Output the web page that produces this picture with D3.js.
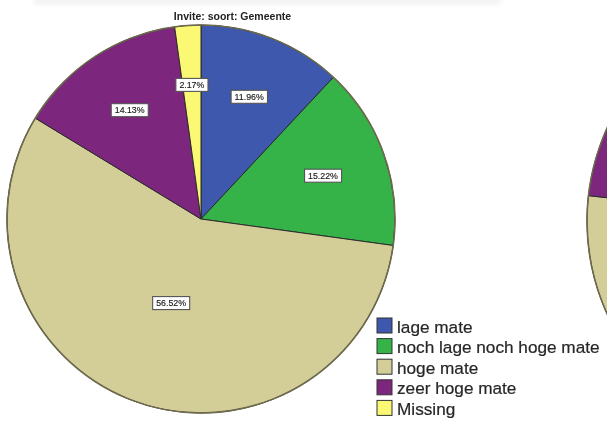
<!DOCTYPE html>
<html>
<head>
<meta charset="utf-8">
<script src="https://cdn.jsdelivr.net/npm/d3@7"></script>
<style>
  html, body { margin: 0; padding: 0; background: #fff; }
  svg { display: block; }
</style>
</head>
<body>
<svg id="chart" width="607" height="423"></svg>
<script>
// Answer categories and shares (percent) for each pie
const categories = ["lage mate", "noch lage noch hoge mate", "hoge mate", "zeer hoge mate", "Missing"];
const gemeenteValues = [11.96, 15.22, 56.52, 14.13, 2.17];
const secondValues = [9.5, 14.3, 53.0, 20.5, 2.7];
const titleGemeente = "Invite: soort: Gemeente";
const colors = ["#3e58ac", "#35b34a", "#d3ce98", "#7b287d", "#fbf873"];

const svg = d3.select("#chart");

const defs = svg.append("defs");
defs.append("filter").attr("id", "soft")
  .append("feGaussianBlur").attr("stdDeviation", 0.45);
defs.append("filter").attr("id", "haze")
  .append("feGaussianBlur").attr("stdDeviation", 2.5);

// faint band at the top edge
svg.append("rect")
  .attr("x", 34).attr("y", -6).attr("width", 466).attr("height", 11)
  .attr("fill", "#f3f3f3").attr("filter", "url(#haze)");

const color = d3.scaleOrdinal().domain(categories).range(colors);
const pie = d3.pie().sort(null).value(d => d.value);

function drawPie(values, cx, cy, r, withLabels) {
  const data = categories.map((c, i) => ({ cat: c, value: values[i] }));
  const arcs = pie(data);
  const arc = d3.arc().innerRadius(0).outerRadius(r);
  const g = svg.append("g").attr("transform", `translate(${cx},${cy})`)
    .attr("filter", "url(#soft)");

  g.selectAll("path.slice").data(arcs).join("path")
    .attr("class", "slice")
    .attr("d", arc)
    .attr("fill", d => color(d.data.cat))
    .attr("stroke", "#2b2b2b")
    .attr("stroke-width", 1)
    .attr("stroke-linejoin", "round");

  // outer rim
  g.append("circle").attr("r", r)
    .attr("fill", "none").attr("stroke", "#6d6a4e").attr("stroke-width", 1.6);

  if (!withLabels) return;

  // label near the area centroid of each sector, kept away from the centre
  const fmt = d3.format(".2f");
  const lab = g.selectAll("g.lab").data(arcs).join("g").attr("class", "lab")
    .attr("transform", d => {
      const half = (d.endAngle - d.startAngle) / 2;
      const mid = d.startAngle + half;
      let dist = 1.04 * 2 * r * Math.sin(half) / (3 * half);
      dist = Math.max(dist, r * 0.46);
      return `translate(${dist * Math.sin(mid)},${-dist * Math.cos(mid)})`;
    });
  lab.each(function(d) {
    const s = d3.select(this);
    const t = s.append("text")
      .attr("text-anchor", "middle")
      .attr("dy", "0.35em")
      .attr("font-family", "Liberation Sans, Arial, sans-serif")
      .attr("font-size", 8.8)
      .attr("fill", "#1a1a1a")
      .attr("stroke", "#1a1a1a").attr("stroke-width", 0.15)
      .text(fmt(d.data.value) + "%");
    const bb = t.node().getBBox();
    s.insert("rect", "text")
      .attr("x", bb.x - 3.5).attr("y", -6.5)
      .attr("width", bb.width + 7).attr("height", 13)
      .attr("fill", "#fff").attr("stroke", "#555").attr("stroke-width", 1.1);
  });
}

// title of the first pie
svg.append("text")
  .attr("x", 232.5).attr("y", 19.5)
  .attr("text-anchor", "middle")
  .attr("font-family", "Liberation Sans, Arial, sans-serif")
  .attr("font-size", 10.5).attr("font-weight", "bold")
  .attr("fill", "#222")
  .attr("filter", "url(#soft)")
  .text(titleGemeente);

drawPie(gemeenteValues, 201, 219, 194, true);
drawPie(secondValues, 812, 221, 225, false);

// legend
const legend = svg.append("g").attr("transform", "translate(377,318)")
  .attr("filter", "url(#soft)");
const item = legend.selectAll("g").data(categories).join("g")
  .attr("transform", (d, i) => `translate(0,${i * 20.6})`);
item.append("rect")
  .attr("width", 15).attr("height", 15)
  .attr("fill", d => color(d))
  .attr("stroke", "#333").attr("stroke-width", 1);
item.append("text")
  .attr("x", 20).attr("y", 14.5)
  .attr("font-family", "Liberation Sans, Arial, sans-serif")
  .attr("font-size", 17.2)
  .attr("fill", "#262626")
  .attr("stroke", "#262626").attr("stroke-width", 0.2)
  .text(d => d);
</script>
</body>
</html>
